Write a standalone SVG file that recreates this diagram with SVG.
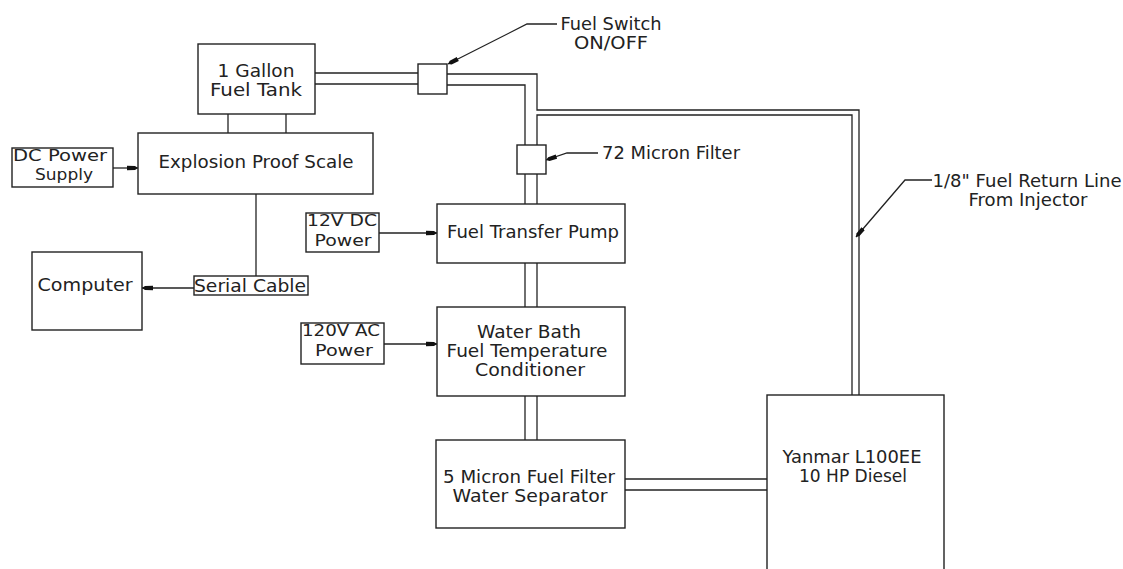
<svg xmlns="http://www.w3.org/2000/svg" width="1123" height="569" viewBox="0 0 1123 569">
<style>
.b{fill:#fff;stroke:#222;stroke-width:1.4}
.l{fill:none;stroke:#222;stroke-width:1.3}
text{font-family:"DejaVu Sans","Liberation Sans",sans-serif;font-size:17px;fill:#222;text-anchor:middle}
.s{font-size:16px}
</style>
<defs>
<marker id="ah" viewBox="0 0 11 6" refX="11" refY="3" markerWidth="11" markerHeight="6" markerUnits="userSpaceOnUse" orient="auto">
<path d="M0,0.8 L8,1 L11,3 L8,5 L0,5.2 Z" fill="#111"/>
</marker>
</defs>
<rect width="1123" height="569" fill="#fff"/>
<g id="connectors">
<line class="l" x1="315" y1="73" x2="418" y2="73"/>
<line class="l" x1="315" y1="84" x2="418" y2="84"/>
<polyline class="l" points="447,74 537,74 537,110 859,110 859,395"/>
<polyline class="l" points="447,85 525,85 525,145"/>
<polyline class="l" points="852,395 852,115 537,115 537,145"/>
<line class="l" x1="525" y1="174" x2="525" y2="204"/>
<line class="l" x1="537" y1="174" x2="537" y2="204"/>
<line class="l" x1="525" y1="263" x2="525" y2="307"/>
<line class="l" x1="537" y1="263" x2="537" y2="307"/>
<line class="l" x1="525" y1="396" x2="525" y2="440"/>
<line class="l" x1="537" y1="396" x2="537" y2="440"/>
<line class="l" x1="625" y1="479" x2="767" y2="479"/>
<line class="l" x1="625" y1="490" x2="767" y2="490"/>
<line class="l" x1="228" y1="114" x2="228" y2="133"/>
<line class="l" x1="286" y1="114" x2="286" y2="133"/>
<line class="l" x1="256" y1="194" x2="256" y2="276"/>
<line class="l" x1="113" y1="168" x2="138" y2="168" marker-end="url(#ah)"/>
<line class="l" x1="194" y1="288" x2="142" y2="288" marker-end="url(#ah)"/>
<line class="l" x1="379" y1="233" x2="437" y2="233" marker-end="url(#ah)"/>
<line class="l" x1="384" y1="344" x2="437" y2="344" marker-end="url(#ah)"/>
<polyline class="l" points="557,24 527,24 448,64" marker-end="url(#ah)"/>
<polyline class="l" points="598,153 567,153 546,160" marker-end="url(#ah)"/>
<polyline class="l" points="932,180 905,180 856,237" marker-end="url(#ah)"/>
</g>
<g id="fuel-tank">
<rect class="b" x="198" y="44" width="117" height="70"/>
<text x="256" y="77" textLength="77" lengthAdjust="spacingAndGlyphs">1 Gallon</text>
<text x="256" y="96" textLength="92" lengthAdjust="spacingAndGlyphs">Fuel Tank</text>
</g>
<g id="scale">
<rect class="b" x="138" y="133" width="235" height="61"/>
<text x="256" y="168" textLength="195" lengthAdjust="spacingAndGlyphs">Explosion Proof Scale</text>
</g>
<g id="dc-power-supply">
<rect class="b" x="12" y="148" width="101" height="39"/>
<text class="s" x="60" y="161" textLength="94" lengthAdjust="spacingAndGlyphs">DC Power</text>
<text class="s" x="64" y="180" textLength="58" lengthAdjust="spacingAndGlyphs">Supply</text>
</g>
<g id="computer">
<rect class="b" x="32" y="252" width="110" height="78"/>
<text x="85" y="291" textLength="95" lengthAdjust="spacingAndGlyphs">Computer</text>
</g>
<g id="serial-cable">
<rect class="b" x="194" y="276" width="114" height="19"/>
<text x="250" y="292" textLength="112" lengthAdjust="spacingAndGlyphs">Serial Cable</text>
</g>
<g id="fuel-switch">
<rect class="b" x="418" y="64" width="29" height="30"/>
<text x="611" y="30" textLength="101" lengthAdjust="spacingAndGlyphs">Fuel Switch</text>
<text x="611" y="49" textLength="74" lengthAdjust="spacingAndGlyphs">ON/OFF</text>
</g>
<g id="micron-filter">
<rect class="b" x="517" y="145" width="29" height="29"/>
<text x="671" y="159" textLength="138" lengthAdjust="spacingAndGlyphs">72 Micron Filter</text>
</g>
<g id="pump-power">
<rect class="b" x="306" y="213" width="73" height="39"/>
<text class="s" x="342" y="226" textLength="70" lengthAdjust="spacingAndGlyphs">12V DC</text>
<text class="s" x="343" y="246" textLength="57" lengthAdjust="spacingAndGlyphs">Power</text>
</g>
<g id="transfer-pump">
<rect class="b" x="437" y="204" width="188" height="59"/>
<text x="533" y="238" textLength="172" lengthAdjust="spacingAndGlyphs">Fuel Transfer Pump</text>
</g>
<g id="bath-power">
<rect class="b" x="301" y="323" width="83" height="41"/>
<text class="s" x="341" y="336" textLength="78" lengthAdjust="spacingAndGlyphs">120V AC</text>
<text class="s" x="344" y="356" textLength="58" lengthAdjust="spacingAndGlyphs">Power</text>
</g>
<g id="water-bath">
<rect class="b" x="437" y="307" width="188" height="89"/>
<text x="529" y="338" textLength="104" lengthAdjust="spacingAndGlyphs">Water Bath</text>
<text x="527" y="357" textLength="161" lengthAdjust="spacingAndGlyphs">Fuel Temperature</text>
<text x="530" y="376" textLength="110" lengthAdjust="spacingAndGlyphs">Conditioner</text>
</g>
<g id="separator">
<rect class="b" x="436" y="440" width="189" height="88"/>
<text x="529" y="483" textLength="172" lengthAdjust="spacingAndGlyphs">5 Micron Fuel Filter</text>
<text x="530" y="502" textLength="155" lengthAdjust="spacingAndGlyphs">Water Separator</text>
</g>
<g id="engine">
<rect class="b" x="767" y="395" width="177" height="190"/>
<text x="852" y="463" textLength="139" lengthAdjust="spacingAndGlyphs">Yanmar L100EE</text>
<text x="853" y="482" textLength="108" lengthAdjust="spacingAndGlyphs">10 HP Diesel</text>
</g>
<g id="return-label">
<text x="1027" y="187" textLength="189" lengthAdjust="spacingAndGlyphs">1/8" Fuel Return Line</text>
<text x="1028" y="206" textLength="119" lengthAdjust="spacingAndGlyphs">From Injector</text>
</g>
</svg>
